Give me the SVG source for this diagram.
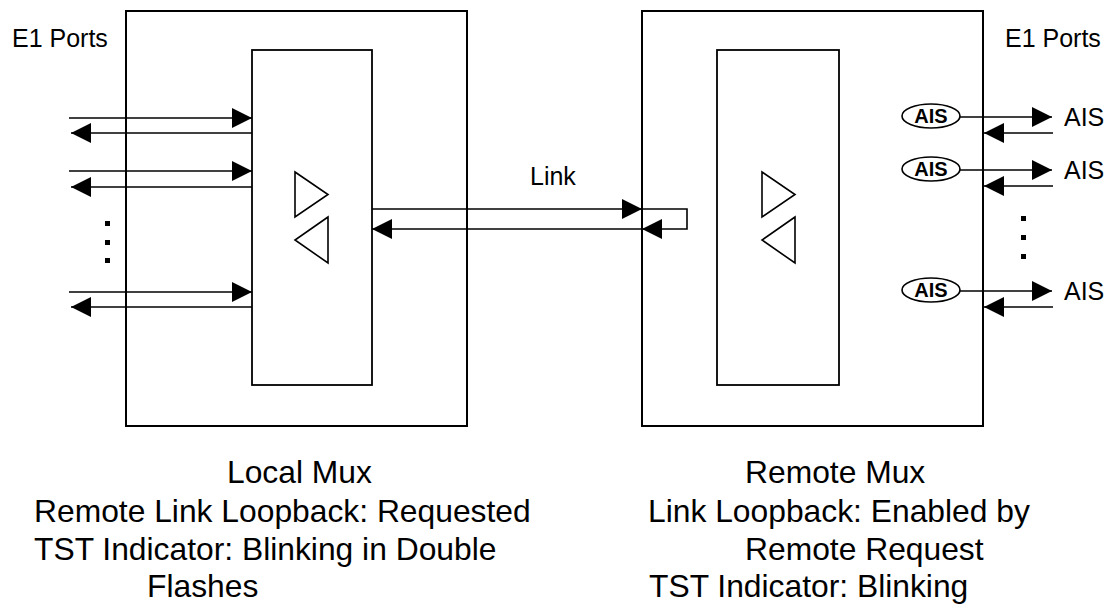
<svg xmlns="http://www.w3.org/2000/svg" width="1110" height="608" viewBox="0 0 1110 608">
  <style>
    .box { fill: none; stroke: #000; stroke-width: 2; }
    .inner { fill: none; stroke: #000; stroke-width: 1.8; }
    .tri { fill: none; stroke: #000; stroke-width: 1.6; stroke-linejoin: miter; }
    .wire { fill: none; stroke: #000; stroke-width: 1.6; }
    .arrow { marker-end: url(#head); }
    .lbl { font-family: "Liberation Sans", Arial, sans-serif; font-size: 25px; fill: #000; }
    .cap { font-family: "Liberation Sans", Arial, sans-serif; font-size: 31.8px; fill: #000; }
    .ais { font-family: "Liberation Sans", Arial, sans-serif; font-size: 20px; font-weight: bold; fill: #000; text-anchor: middle; }
    .dot { fill: #000; }
  </style>
  <defs>
    <marker id="head" viewBox="0 0 20 20" refX="20" refY="10" markerWidth="20" markerHeight="20" markerUnits="userSpaceOnUse" orient="auto">
      <path d="M0,0 L20,10 L0,20 Z" fill="#000"/>
    </marker>
  </defs>

  <rect width="1110" height="608" fill="#fff"/>

  <!-- Local multiplexer -->
  <g id="local-mux">
    <rect class="box" x="126" y="11" width="341" height="415"/>
    <rect class="inner" x="252" y="50" width="120" height="335"/>
    <polygon class="tri" points="295,172 328,194.5 295,217"/>
    <polygon class="tri" points="328,217 295,240 328,263"/>
    <text class="lbl" x="12" y="47">E1 Ports</text>
    <rect class="dot" x="105" y="221" width="5" height="5"/>
    <rect class="dot" x="105" y="240" width="5" height="5"/>
    <rect class="dot" x="105" y="258" width="5" height="5"/>
    <text class="cap" x="227" y="483">Local Mux</text>
    <text class="cap" x="34" y="522">Remote Link Loopback: Requested</text>
    <text class="cap" x="34" y="560">TST Indicator: Blinking in Double</text>
    <text class="cap" x="147" y="597">Flashes</text>
  </g>

  <!-- Remote multiplexer -->
  <g id="remote-mux">
    <rect class="box" x="642" y="11" width="341" height="415"/>
    <rect class="inner" x="717" y="50" width="122" height="335"/>
    <polygon class="tri" points="762,172 795,194.5 762,217"/>
    <polygon class="tri" points="795,217 762,240 795,263"/>
    <text class="lbl" x="1005" y="47">E1 Ports</text>
    <rect class="dot" x="1021" y="216" width="5" height="5"/>
    <rect class="dot" x="1021" y="235" width="5" height="5"/>
    <rect class="dot" x="1021" y="254" width="5" height="5"/>
    <text class="cap" x="745" y="483">Remote Mux</text>
    <text class="cap" x="648" y="522">Link Loopback: Enabled by</text>
    <text class="cap" x="745" y="560">Remote Request</text>
    <text class="cap" x="649" y="597">TST Indicator: Blinking</text>
  </g>

  <!-- AIS sources on the remote E1 ports -->
  <g id="ais-1">
    <ellipse class="wire" cx="931" cy="116" rx="29" ry="12"/>
    <text class="ais" x="931" y="123">AIS</text>
    <text class="lbl" x="1064" y="126">AIS</text>
  </g>
  <g id="ais-2">
    <ellipse class="wire" cx="931" cy="169" rx="29" ry="12"/>
    <text class="ais" x="931" y="176">AIS</text>
    <text class="lbl" x="1064" y="179">AIS</text>
  </g>
  <g id="ais-3">
    <ellipse class="wire" cx="931" cy="290" rx="29" ry="12"/>
    <text class="ais" x="931" y="297">AIS</text>
    <text class="lbl" x="1064" y="300">AIS</text>
  </g>

  <g id="link-label">
    <text class="lbl" x="530" y="185">Link</text>
  </g>

  <!-- Connectors -->
  <g id="connectors">
    <!-- local E1 ports -->
    <line class="wire arrow" x1="69" y1="118" x2="252" y2="118"/>
    <line class="wire arrow" x1="252" y1="133" x2="71" y2="133"/>
    <line class="wire arrow" x1="69" y1="171" x2="252" y2="171"/>
    <line class="wire arrow" x1="252" y1="187" x2="71" y2="187"/>
    <line class="wire arrow" x1="69" y1="292" x2="252" y2="292"/>
    <line class="wire arrow" x1="252" y1="307" x2="71" y2="307"/>

    <!-- link with loopback at the remote side -->
    <line class="wire arrow" x1="372" y1="209" x2="642" y2="209"/>
    <path class="wire arrow" d="M642,209 H687 V229 H642"/>
    <line class="wire arrow" x1="642" y1="229" x2="372" y2="229"/>

    <!-- remote E1 ports -->
    <line class="wire arrow" x1="960" y1="117" x2="1052" y2="117"/>
    <line class="wire arrow" x1="1053" y1="133" x2="984" y2="133"/>
    <line class="wire arrow" x1="960" y1="170" x2="1052" y2="170"/>
    <line class="wire arrow" x1="1053" y1="186" x2="984" y2="186"/>
    <line class="wire arrow" x1="960" y1="291" x2="1052" y2="291"/>
    <line class="wire arrow" x1="1053" y1="307" x2="984" y2="307"/>
  </g>
</svg>
